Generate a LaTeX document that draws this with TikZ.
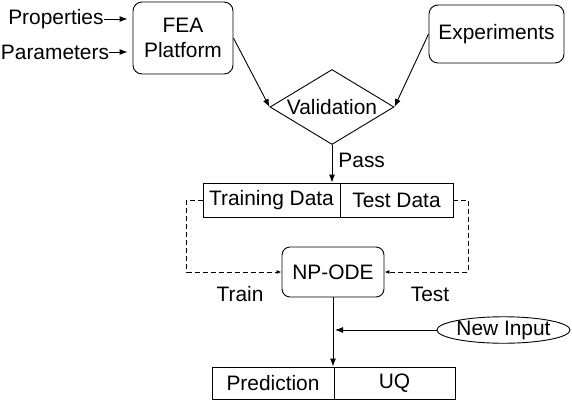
\documentclass[tikz,border=0pt]{standalone}
\usepackage{fontspec}
\setmainfont{Liberation Sans}
\usetikzlibrary{shapes.geometric,arrows.meta}

\begin{document}
\begin{tikzpicture}
[x=1pt,y=-1pt,line width=0.9pt,font=\fontsize{20.9}{25}\selectfont,
 rbox/.style={draw,rounded corners=9pt,align=center,inner sep=0pt},
 cell/.style={draw,inner sep=0pt,minimum height=34pt},
 arr/.style={-{Latex[length=8pt,width=6pt]}},
 darr/.style={dash pattern=on 5pt off 3pt,-{Latex[length=5pt,width=4pt]}}]
\useasboundingbox (0,0) rectangle (572,402);
\node[rbox,minimum width=100pt,minimum height=72pt] (fea) at (183,38) {FEA\\Platform};
\node[rbox,minimum width=135pt,minimum height=58pt] (exp) at (496.5,34) {Experiments};
\node[anchor=east,inner sep=0pt] (prop) at (104,19) {Properties};
\node[anchor=west,inner sep=0pt] (para) at (0.5,52) {Parameters};
\node[draw,diamond,aspect=1.65,inner sep=0pt,minimum width=124pt,minimum height=75pt] (val) at (332,107) {Validation};
\node[cell,minimum width=137pt] (train) at (271.5,200) {Training Data};
\node[cell,minimum width=113pt] (test) at (396.5,200) {Test Data};
\node[rbox,rounded corners=8pt,minimum width=102pt,minimum height=50pt] (npode) at (333,272) {NP-ODE};
\node[draw,ellipse,inner sep=0pt,minimum width=127pt,minimum height=26pt] (newin) at (503.5,330) {New Input};
\node[cell,minimum width=122pt,minimum height=32pt] (pred) at (273,383) {Prediction};
\node[cell,minimum width=121pt,minimum height=32pt] (uq) at (394.5,383) {UQ};
\node (trl) at (240,294) {Train};
\node (tsl) at (430,294) {Test};
\coordinate (join) at (npode.south |- newin.west);
\draw[arr] (prop) -- ([xshift=-5pt]prop -| fea.west);
\draw[arr] (para) -- ([xshift=-5pt]para -| fea.west);
\draw[arr] (fea.east) -- (val.west);
\draw[arr] (exp.west) -- (val.east);
\draw[arr] (val.south) -- node[right,pos=0.4,inner sep=6pt] {Pass} (val.south |- train.north);
\draw[darr] (train.west) -- ++(-16,0) |- (npode.west);
\draw[darr] (test.east) -- ++(15,0) |- (npode.east);
\draw[arr] (npode.south) -- (npode.south |- pred.north);
\draw[arr] (newin.west) -- ([xshift=2pt]join);
\end{tikzpicture}
\end{document}
